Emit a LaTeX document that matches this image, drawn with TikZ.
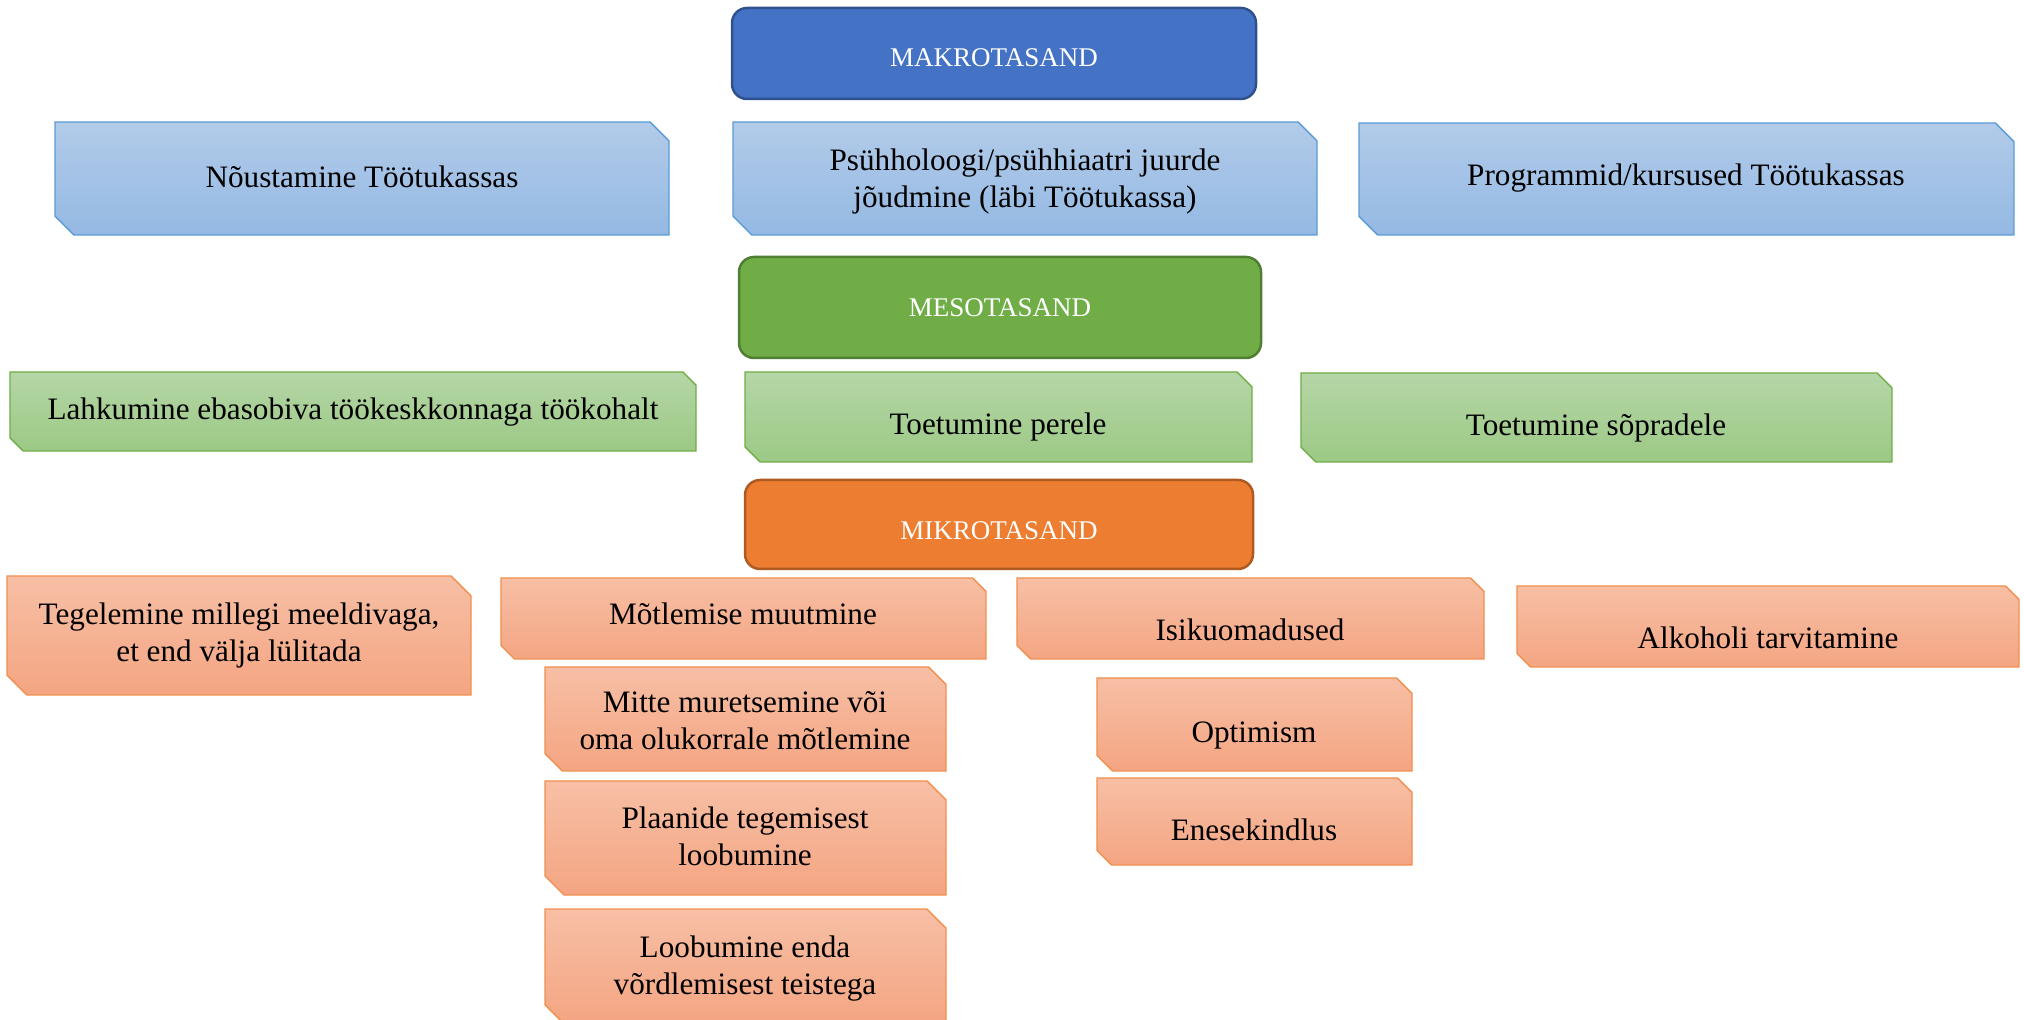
\documentclass[tikz,border=0pt]{standalone}
\usepackage{fontspec}
\setmainfont{Liberation Serif}
\definecolor{bluedark}{HTML}{4472C4}
\definecolor{bluedarkline}{HTML}{2F528F}
\definecolor{bluetop}{HTML}{B2CBE9}
\definecolor{bluebot}{HTML}{94B9E3}
\definecolor{blueline}{HTML}{5B9BD5}
\definecolor{greendark}{HTML}{70AD47}
\definecolor{greendarkline}{HTML}{507E32}
\definecolor{greentop}{HTML}{B5D6A7}
\definecolor{greenbot}{HTML}{9CC985}
\definecolor{greenline}{HTML}{70AD47}
\definecolor{orangedark}{HTML}{ED7D31}
\definecolor{orangedarkline}{HTML}{AE5A21}
\definecolor{orangetop}{HTML}{F7BFA5}
\definecolor{orangebot}{HTML}{F4A582}
\definecolor{orangeline}{HTML}{F08F4E}
\newcommand\snipbox[5]{%
  \pgfmathsetmacro\snipc{min(#4-#2,#5-#3)/6}%
  \path[#1] (#2,#3) -- ({#4-\snipc},#3) -- (#4,{#3+\snipc}) -- (#4,#5) -- ({#2+\snipc},#5) -- (#2,{#5-\snipc}) -- cycle;}
\tikzset{
  headbox/.style={rounded corners=7.5pt, line width=1.25pt},
  makrobox/.style={headbox, fill=bluedark, draw=bluedarkline},
  mesobox/.style={headbox, fill=greendark, draw=greendarkline},
  mikrobox/.style={headbox, fill=orangedark, draw=orangedarkline},
  bluesnip/.style={draw=blueline, line width=0.7pt, top color=bluetop, bottom color=bluebot},
  greensnip/.style={draw=greenline, line width=0.7pt, top color=greentop, bottom color=greenbot},
  orangesnip/.style={draw=orangeline, line width=0.7pt, top color=orangetop, bottom color=orangebot},
  headtxt/.style={anchor=base, inner sep=0pt, text=white, font=\fontsize{13.5}{16}\selectfont},
  itemtxt/.style={anchor=base, inner sep=0pt, text=black, align=center, font=\fontsize{15.6}{18.5}\selectfont},
}
\begin{document}
\begin{tikzpicture}[x=0.5pt,y=-0.5pt]
\useasboundingbox (0,0) rectangle (2024,1020);
\begin{scope}
\clip (0,0) rectangle (2024,1020);
% MAKRO level
\path[makrobox] (732,8) rectangle (1256,99);
\node[headtxt] (makro) at (994,67) {MAKROTASAND};
\snipbox{bluesnip}{55}{122}{669}{235}
\node[itemtxt] (nous) at (362,188) {Nõustamine Töötukassas};
\snipbox{bluesnip}{733}{122}{1317}{235}
\node[itemtxt] (psyh) at (1025,208) {Psühholoogi/psühhiaatri juurde\\jõudmine (läbi Töötukassa)};
\snipbox{bluesnip}{1359}{123}{2014}{235}
\node[itemtxt] (prog) at (1686,186) {Programmid/kursused Töötukassas};
% MESO level
\path[mesobox] (739,257) rectangle (1261,358);
\node[headtxt] (meso) at (1000,317) {MESOTASAND};
\snipbox{greensnip}{10}{372}{696}{451}
\node[itemtxt] (lahk) at (353,420) {Lahkumine ebasobiva töökeskkonnaga töökohalt};
\snipbox{greensnip}{745}{372}{1252}{462}
\node[itemtxt] (pere) at (998,435) {Toetumine perele};
\snipbox{greensnip}{1301}{373}{1892}{462}
\node[itemtxt] (sopr) at (1596,436) {Toetumine sõpradele};
% MIKRO level
\path[mikrobox] (745,480) rectangle (1253,569);
\node[headtxt] (mikro) at (999,540) {MIKROTASAND};
\snipbox{orangesnip}{7}{576}{471}{695}
\node[itemtxt] (tege) at (239,662) {Tegelemine millegi meeldivaga,\\et end välja lülitada};
\snipbox{orangesnip}{501}{578}{986}{659}
\node[itemtxt] (motl) at (743,625) {Mõtlemise muutmine};
\snipbox{orangesnip}{545}{667}{946}{771}
\node[itemtxt] (mitte) at (745,750) {Mitte muretsemine või\\oma olukorrale mõtlemine};
\snipbox{orangesnip}{545}{781}{946}{895}
\node[itemtxt] (plaan) at (745,865) {Plaanide tegemisest\\loobumine};
\snipbox{orangesnip}{545}{909}{946}{1024}
\node[itemtxt] (loob) at (745,994) {Loobumine enda\\võrdlemisest teistega};
\snipbox{orangesnip}{1017}{578}{1484}{659}
\node[itemtxt] (isik) at (1250,641) {Isikuomadused};
\snipbox{orangesnip}{1097}{678}{1412}{771}
\node[itemtxt] (opt) at (1254,743) {Optimism};
\snipbox{orangesnip}{1097}{778}{1412}{865}
\node[itemtxt] (enes) at (1254,841) {Enesekindlus};
\snipbox{orangesnip}{1517}{586}{2019}{667}
\node[itemtxt] (alko) at (1768,649) {Alkoholi tarvitamine};
\end{scope}
\end{tikzpicture}
\end{document}
